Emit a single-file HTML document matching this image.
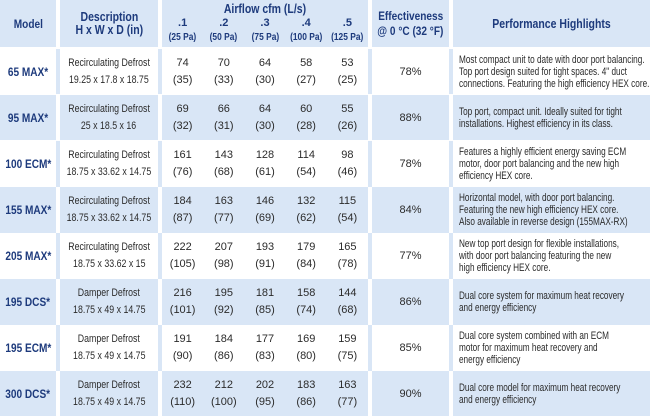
<!DOCTYPE html>
<html><head><meta charset="utf-8"><style>
*{margin:0;padding:0;box-sizing:border-box}
body{width:650px;height:416px;background:#fff;font-family:"Liberation Sans",sans-serif;color:#2b2b2b;overflow:hidden;position:relative}
.row{position:absolute;left:0;width:650px;display:flex}
.row>div{height:100%;display:flex;align-items:center;justify-content:center;text-align:center;overflow:visible}
.b{background:#d9e6f6}.w{background:#fff}
.m{width:56px;color:#1d3a7c;font-weight:bold;font-size:12px;white-space:nowrap}
.m>i,.d i,.hd i{font-style:normal;display:inline-block;transform:scaleX(.84);white-space:nowrap}
.d i{transform:scaleX(.8)}
.g{width:4px}
.d{width:98px;font-size:11px;line-height:17px;flex-direction:column}
.a{width:206px}
.a span{width:41.2px;font-size:11px;line-height:17px;display:block}
.e{width:77px;font-size:11px}
.h{width:197px;justify-content:flex-start!important;text-align:left!important;padding-left:6px;font-size:11.4px;line-height:12px}
.h>p{width:275px;min-width:275px;white-space:nowrap;transform:scaleX(.72);transform-origin:left center}
.hd{color:#1d3a7c;font-weight:bold}
</style></head><body>
<div class="row" style="top:0;height:47px">
<div class="m b hd"><i>Model</i></div><div class="g w"></div>
<div class="d b hd" style="font-size:12.5px;line-height:13px"><i style="transform:scaleX(.84)">Description</i><i style="transform:scaleX(.84)">H x W x D (in)</i></div><div class="g w"></div>
<div class="a b hd" style="flex-direction:column;font-size:11px"><div style="font-size:12.5px;line-height:14px"><i>Airflow cfm (L/s)</i></div><div style="display:flex"><span style="line-height:14px">.1<br><i style="font-size:10px">(25 Pa)</i></span><span style="line-height:14px">.2<br><i style="font-size:10px">(50 Pa)</i></span><span style="line-height:14px">.3<br><i style="font-size:10px">(75 Pa)</i></span><span style="line-height:14px">.4<br><i style="font-size:10px">(100 Pa)</i></span><span style="line-height:14px">.5<br><i style="font-size:10px">(125 Pa)</i></span></div></div><div class="g w"></div>
<div class="e b hd" style="font-size:12px;line-height:15px;flex-direction:column"><i>Effectiveness</i><i>@ 0 °C (32 °F)</i></div><div class="g w"></div>
<div class="h b hd" style="justify-content:center!important;font-size:12.5px;padding-left:0"><i>Performance Highlights</i></div>
</div>

<div class="row" style="top:49px;height:45px">
<div class="m w"><i>65 MAX*</i></div><div class="g b"></div>
<div class="d w"><i>Recirculating Defrost</i><i>19.25 x 17.8 x 18.75</i></div><div class="g b"></div>
<div class="a w"><span>74<br>(35)</span><span>70<br>(33)</span><span>64<br>(30)</span><span>58<br>(27)</span><span>53<br>(25)</span></div><div class="g b"></div>
<div class="e w">78%</div><div class="g b"></div>
<div class="h w"><p>Most compact unit to date with door port balancing.<br>Top port design suited for tight spaces. 4" duct<br>connections. Featuring the high efficiency HEX core.</p></div>
</div>

<div class="row" style="top:95px;height:45px">
<div class="m b"><i>95 MAX*</i></div><div class="g w"></div>
<div class="d b"><i>Recirculating Defrost</i><i>25 x 18.5 x 16</i></div><div class="g w"></div>
<div class="a b"><span>69<br>(32)</span><span>66<br>(31)</span><span>64<br>(30)</span><span>60<br>(28)</span><span>55<br>(26)</span></div><div class="g w"></div>
<div class="e b">88%</div><div class="g w"></div>
<div class="h b"><p>Top port, compact unit. Ideally suited for tight<br>installations. Highest efficiency in its class.</p></div>
</div>

<div class="row" style="top:141px;height:46px">
<div class="m w"><i>100 ECM*</i></div><div class="g b"></div>
<div class="d w"><i>Recirculating Defrost</i><i>18.75 x 33.62 x 14.75</i></div><div class="g b"></div>
<div class="a w"><span>161<br>(76)</span><span>143<br>(68)</span><span>128<br>(61)</span><span>114<br>(54)</span><span>98<br>(46)</span></div><div class="g b"></div>
<div class="e w">78%</div><div class="g b"></div>
<div class="h w"><p>Features a highly efficient energy saving ECM<br>motor, door port balancing and the new high<br>efficiency HEX core.</p></div>
</div>

<div class="row" style="top:187px;height:46px">
<div class="m b"><i>155 MAX*</i></div><div class="g w"></div>
<div class="d b"><i>Recirculating Defrost</i><i>18.75 x 33.62 x 14.75</i></div><div class="g w"></div>
<div class="a b"><span>184<br>(87)</span><span>163<br>(77)</span><span>146<br>(69)</span><span>132<br>(62)</span><span>115<br>(54)</span></div><div class="g w"></div>
<div class="e b">84%</div><div class="g w"></div>
<div class="h b"><p>Horizontal model, with door port balancing.<br>Featuring the new high efficiency HEX core.<br>Also available in reverse design (155MAX-RX)</p></div>
</div>

<div class="row" style="top:233px;height:46px">
<div class="m w"><i>205 MAX*</i></div><div class="g b"></div>
<div class="d w"><i>Recirculating Defrost</i><i>18.75 x 33.62 x 15</i></div><div class="g b"></div>
<div class="a w"><span>222<br>(105)</span><span>207<br>(98)</span><span>193<br>(91)</span><span>179<br>(84)</span><span>165<br>(78)</span></div><div class="g b"></div>
<div class="e w">77%</div><div class="g b"></div>
<div class="h w"><p>New top port design for flexible installations,<br>with door port balancing featuring the new<br>high efficiency HEX core.</p></div>
</div>

<div class="row" style="top:279px;height:46px">
<div class="m b"><i>195 DCS*</i></div><div class="g w"></div>
<div class="d b"><i>Damper Defrost</i><i>18.75 x 49 x 14.75</i></div><div class="g w"></div>
<div class="a b"><span>216<br>(101)</span><span>195<br>(92)</span><span>181<br>(85)</span><span>158<br>(74)</span><span>144<br>(68)</span></div><div class="g w"></div>
<div class="e b">86%</div><div class="g w"></div>
<div class="h b"><p>Dual core system for maximum heat recovery<br>and energy efficiency</p></div>
</div>

<div class="row" style="top:325px;height:46px">
<div class="m w"><i>195 ECM*</i></div><div class="g b"></div>
<div class="d w"><i>Damper Defrost</i><i>18.75 x 49 x 14.75</i></div><div class="g b"></div>
<div class="a w"><span>191<br>(90)</span><span>184<br>(86)</span><span>177<br>(83)</span><span>169<br>(80)</span><span>159<br>(75)</span></div><div class="g b"></div>
<div class="e w">85%</div><div class="g b"></div>
<div class="h w"><p>Dual core system combined with an ECM<br>motor for maximum heat recovery and<br>energy efficiency</p></div>
</div>

<div class="row" style="top:371px;height:45px">
<div class="m b"><i>300 DCS*</i></div><div class="g w"></div>
<div class="d b"><i>Damper Defrost</i><i>18.75 x 49 x 14.75</i></div><div class="g w"></div>
<div class="a b"><span>232<br>(110)</span><span>212<br>(100)</span><span>202<br>(95)</span><span>183<br>(86)</span><span>163<br>(77)</span></div><div class="g w"></div>
<div class="e b">90%</div><div class="g w"></div>
<div class="h b"><p>Dual core model for maximum heat recovery<br>and energy efficiency</p></div>
</div>
</body></html>
